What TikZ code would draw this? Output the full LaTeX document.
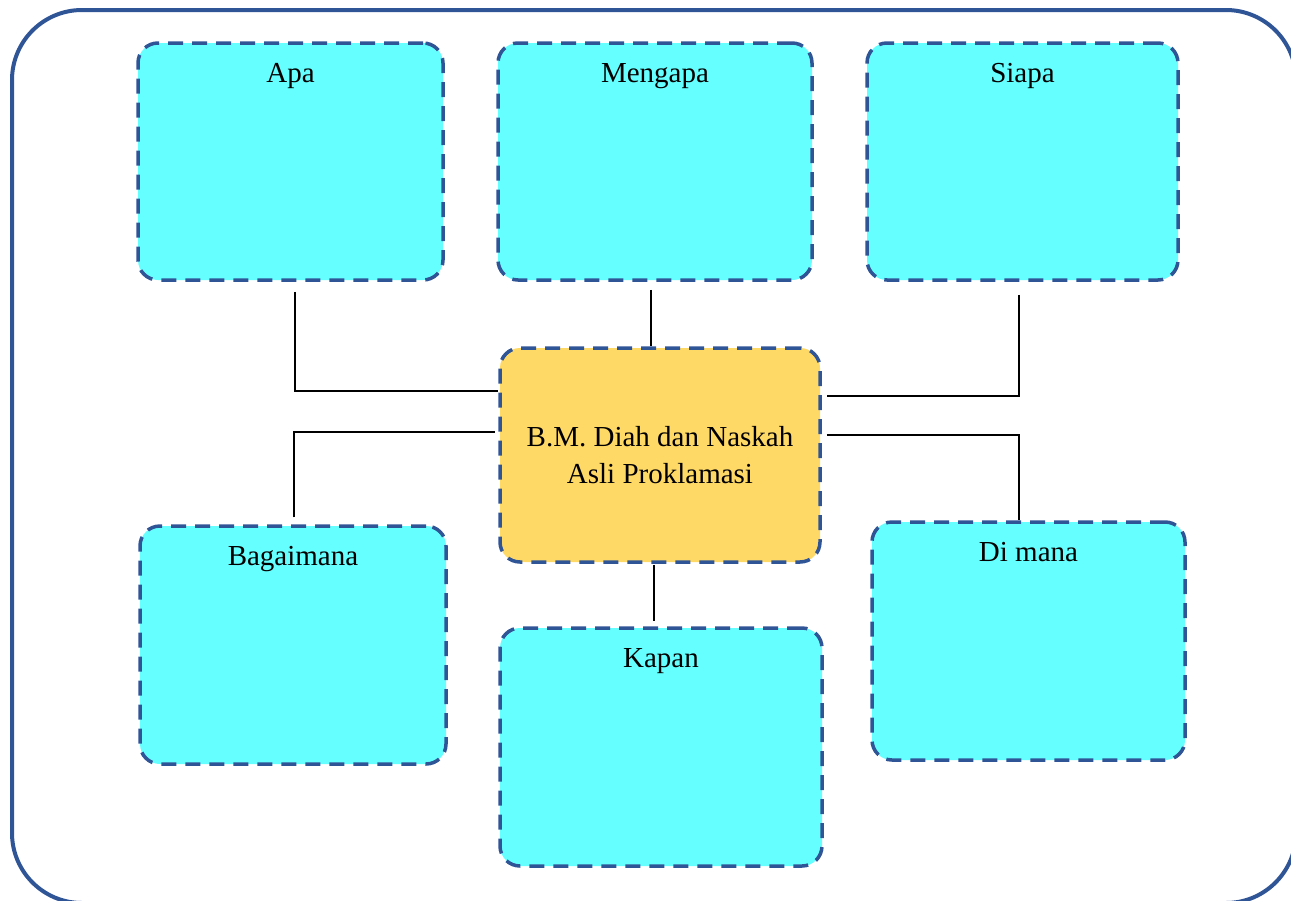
\documentclass[tikz,border=0pt]{standalone}
\usepackage{fontspec}
\setmainfont{Liberation Serif}
\definecolor{rimblue}{HTML}{2F5597}
\definecolor{askcyan}{HTML}{66FFFF}
\definecolor{topicgold}{HTML}{FFD966}
\tikzset{
  askbox/.style={draw=rimblue, fill=askcyan, line width=1.75pt,
    dash pattern=on 7.5pt off 4.5pt, rounded corners=10pt, inner sep=0pt},
  topicbox/.style={askbox, fill=topicgold, align=center,
    font=\fontsize{14.5}{18.5}\selectfont},
  asklabel/.style={anchor=north, yshift=-7.5pt,
    font=\fontsize{14.5}{18.5}\selectfont},
  link/.style={draw=black, line width=1pt}
}
\begin{document}
\begin{tikzpicture}[x=0.5pt, y=-0.5pt]
      \useasboundingbox (0,0) rectangle (1291,900);
      \draw[rimblue, line width=2pt, rounded corners=35pt] (12,10) rectangle (1296,903);
      \node[askbox, minimum width=152.5pt, minimum height=118.5pt,
        label={[asklabel]north:Apa}] (apa) at (290.5,161.5) {};
      \node[askbox, minimum width=157pt, minimum height=118.5pt,
        label={[asklabel]north:Mengapa}] (mengapa) at (655,161.5) {};
      \node[askbox, minimum width=155.5pt, minimum height=118.5pt,
        label={[asklabel]north:Siapa}] (siapa) at (1022.5,161.5) {};
      \node[topicbox, minimum width=160pt, minimum height=107pt] (topic) at (660,455)
        {B.M. Diah dan Naskah\\Asli Proklamasi};
      \node[askbox, minimum width=153pt, minimum height=119pt,
        label={[asklabel]north:Bagaimana}] (bagaimana) at (293,645) {};
      \node[askbox, minimum width=161pt, minimum height=119pt,
        label={[asklabel]north:Kapan}] (kapan) at (661,747) {};
      \node[askbox, minimum width=156.5pt, minimum height=119pt,
        label={[asklabel]north:Di mana}] (dimana) at (1028.5,641) {};
      \begin{scope}[link]
        \draw ([xshift=2pt,yshift=-5pt]apa.south) |- ([yshift=32pt]topic.west);
        \draw ([xshift=-2pt,yshift=-4pt]mengapa.south) -- ([xshift=-2pt]mengapa.south |- topic.north);
        \draw ([xshift=-2pt,yshift=-6.5pt]siapa.south) |- ([xshift=2.5pt,yshift=29.5pt]topic.east);
        \draw ([xshift=0.5pt,yshift=3.5pt]bagaimana.north) |- ([xshift=-1.5pt,yshift=11.5pt]topic.west);
        \draw ([xshift=-3.5pt,yshift=-0.5pt]topic.south -| kapan.north) -- ([xshift=-3.5pt,yshift=2.5pt]kapan.north);
        \draw ([xshift=2.5pt,yshift=10pt]topic.east) -| ([xshift=-4.75pt]dimana.north);
      \end{scope}
    \end{tikzpicture}
\end{document}
